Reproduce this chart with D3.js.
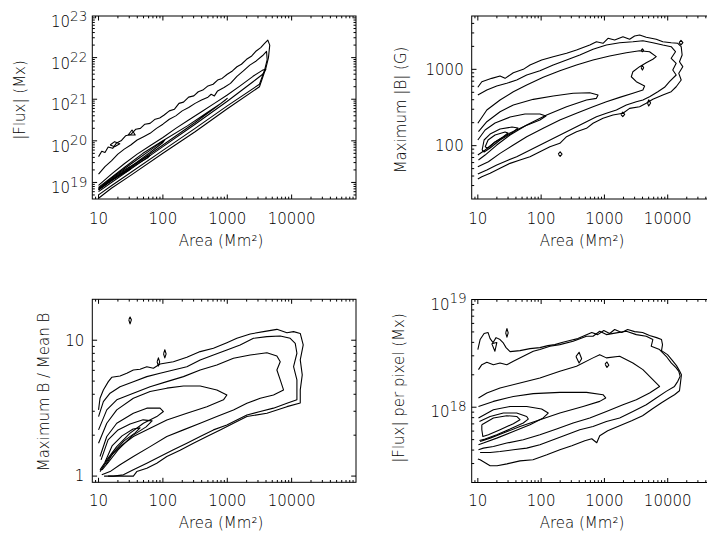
<!DOCTYPE html>
<html><head><meta charset="utf-8">
<script src="https://cdn.jsdelivr.net/npm/d3@7"></script>
<style>
html,body{margin:0;padding:0;background:#fff;}
svg text{font-family:"DejaVu Sans",sans-serif;font-weight:200;fill:#000;}
</style></head>
<body><svg id="c" width="707" height="536"></svg>
<script>
// ---------------- DATA (contour lines, [log10 area, log10 value]) ----------------
const xDomain = [8, 1e5];
const xTicks = [10, 100, 1000, 10000];
const xTickLabels = ["10", "100", "1000", "10000"];
const xTitle = "Area (Mm²)";

const fluxDomain = [4e18, 1e23];
const fluxTicks = [1e19, 1e20, 1e21, 1e22, 1e23];
const fluxTickExp = ["19", "20", "21", "22", "23"];
const fluxTitle = "|Flux| (Mx)";
const fluxContours = [
 [[1.0,19.62],[1.05,19.75],[1.1,19.72],[1.15,19.85],[1.22,19.82],[1.28,19.95],[1.35,20.0],[1.42,20.12],[1.5,20.15],[1.58,20.28],[1.65,20.3],[1.72,20.4],[1.8,20.42],[1.88,20.52],[1.95,20.55],[2.02,20.62],[2.1,20.72],[2.18,20.76],[2.25,20.9],[2.32,20.93],[2.4,21.05],[2.48,21.08],[2.55,21.18],[2.62,21.22],[2.7,21.32],[2.78,21.36],[2.85,21.46],[2.92,21.5],[3.0,21.6],[3.08,21.68],[3.15,21.78],[3.22,21.84],[3.3,21.96],[3.38,22.04],[3.45,22.16],[3.52,22.24],[3.58,22.34],[3.63,22.42],[3.66,22.3],[3.64,22.0],[3.6,21.75],[3.5,21.3],[3.0,20.77],[2.5,20.22],[2.0,19.7],[1.5,19.17],[1.2,18.86],[1.0,18.62]],
 [[1.0,19.2],[1.1,19.38],[1.2,19.52],[1.3,19.68],[1.4,19.8],[1.5,19.9],[1.6,20.02],[1.7,20.1],[1.8,20.18],[1.9,20.3],[2.0,20.4],[2.1,20.52],[2.2,20.6],[2.3,20.72],[2.4,20.8],[2.5,20.9],[2.6,20.98],[2.7,21.05],[2.75,21.12],[2.8,21.08],[2.85,21.2],[2.95,21.28],[3.05,21.38],[3.15,21.55],[3.25,21.68],[3.35,21.82],[3.45,21.92],[3.55,22.05],[3.61,22.15],[3.62,21.95],[3.58,21.7],[3.5,21.36],[3.0,20.84],[2.5,20.3],[2.0,19.77],[1.5,19.24],[1.2,18.92],[1.0,18.7]],
 [[1.0,18.93],[1.2,19.2],[1.4,19.45],[1.6,19.68],[1.8,19.88],[2.0,20.08],[2.2,20.3],[2.4,20.5],[2.6,20.7],[2.8,20.9],[3.0,21.1],[3.2,21.32],[3.4,21.55],[3.55,21.7],[3.6,21.72],[3.55,21.6],[3.4,21.42],[3.0,20.95],[2.5,20.4],[2.0,19.86],[1.5,19.32],[1.2,19.0],[1.0,18.78]],
 [[1.0,18.88],[1.2,19.12],[1.4,19.36],[1.69,19.7],[2.0,20.0],[2.38,20.36],[2.69,20.68],[2.9,20.9],[3.0,21.02],[2.97,20.98],[2.8,20.78],[2.5,20.44],[2.0,19.9],[1.5,19.36],[1.2,19.04],[1.0,18.82]],
 [[1.0,18.86],[1.2,19.1],[1.4,19.33],[1.6,19.55],[1.8,19.77],[1.95,19.94],[2.03,20.02],[2.0,19.96],[1.8,19.72],[1.5,19.38],[1.2,19.06],[1.0,18.84]],
 [[1.0,18.84],[1.2,19.08],[1.4,19.3],[1.6,19.48],[1.75,19.62],[1.8,19.65],[1.77,19.6],[1.6,19.44],[1.4,19.24],[1.2,19.05],[1.0,18.82]],
 [[1.05,18.9],[1.2,19.05],[1.35,19.2],[1.48,19.32],[1.5,19.33],[1.46,19.28],[1.3,19.14],[1.15,19.0],[1.05,18.88]],
 [[1.46,20.14],[1.52,20.26],[1.57,20.14],[1.46,20.14]],
 [[1.18,19.9],[1.25,19.98],[1.33,19.93],[1.25,19.86],[1.18,19.9]]
];

const maxBDomain = [20, 5000];
const maxBTicks = [100, 1000];
const maxBTickLabels = ["100", "1000"];
const maxBTitle = "Maximum |B| (G)";
const maxBContours = [
 [[1.0,2.765],[1.063,2.838],[1.22,2.882],[1.351,2.913],[1.43,2.882],[1.561,2.956],[1.718,3.0],[1.824,3.057],[2.008,3.122],[2.19,3.166],[2.402,3.21],[2.559,3.253],[2.769,3.319],[2.874,3.362],[2.978,3.341],[3.057,3.407],[3.162,3.384],[3.293,3.428],[3.398,3.394],[3.477,3.437],[3.556,3.45],[3.661,3.42],[3.819,3.394],[3.923,3.362],[4.055,3.349],[4.159,3.341],[4.213,3.297],[4.228,3.188],[4.186,3.10],[4.238,3.035],[4.175,2.948],[4.213,2.86],[4.134,2.772],[4.055,2.707],[3.923,2.664],[3.765,2.607],[3.661,2.555],[3.556,2.509],[3.398,2.489],[3.293,2.424],[3.135,2.401],[2.978,2.358],[2.82,2.293],[2.717,2.227],[2.559,2.183],[2.402,2.117],[2.296,2.031],[2.139,1.986],[1.981,1.921],[1.824,1.855],[1.666,1.812],[1.509,1.768],[1.351,1.703],[1.194,1.637],[1.063,1.593],[1.0,1.563]],
 [[1.0,2.664],[1.142,2.729],[1.299,2.782],[1.457,2.817],[1.614,2.860],[1.772,2.926],[1.981,2.982],[2.191,3.057],[2.402,3.122],[2.611,3.188],[2.82,3.263],[3.031,3.319],[3.241,3.349],[3.45,3.362],[3.608,3.375],[3.765,3.349],[3.923,3.319],[4.055,3.297],[4.123,3.231],[4.055,3.145],[4.134,3.079],[4.08,2.991],[4.134,2.926],[4.028,2.838],[3.95,2.765],[3.844,2.707],[3.713,2.641],[3.608,2.598],[3.504,2.576],[3.346,2.533],[3.189,2.467],[3.031,2.424],[2.874,2.379],[2.717,2.314],[2.559,2.248],[2.402,2.183],[2.244,2.117],[2.087,2.052],[1.929,1.986],[1.772,1.921],[1.614,1.855],[1.457,1.803],[1.299,1.746],[1.142,1.681],[1.0,1.628]],
 [[1.0,2.293],[1.142,2.467],[1.351,2.598],[1.561,2.707],[1.772,2.795],[2.033,2.896],[2.296,2.982],[2.559,3.057],[2.82,3.122],[3.083,3.175],[3.346,3.218],[3.556,3.244],[3.713,3.231],[3.819,3.166],[3.765,3.132],[3.661,3.087],[3.556,3.035],[3.45,2.969],[3.425,2.903],[3.504,2.838],[3.635,2.782],[3.608,2.729],[3.45,2.686],[3.241,2.633],[3.031,2.576],[2.82,2.51],[2.559,2.424],[2.296,2.336],[2.033,2.227],[1.772,2.117],[1.561,2.008],[1.351,1.899],[1.167,1.789],[1.0,1.724]],
 [[1.01,2.183],[1.142,2.314],[1.351,2.445],[1.561,2.533],[1.876,2.607],[2.191,2.651],[2.506,2.686],[2.769,2.694],[2.899,2.664],[2.874,2.62],[2.717,2.598],[2.402,2.51],[2.087,2.401],[1.772,2.27],[1.509,2.139],[1.299,2.008],[1.115,1.877],[1.01,1.812]],
 [[1.0,2.074],[1.115,2.205],[1.272,2.297],[1.509,2.375],[1.745,2.415],[1.981,2.415],[2.076,2.389],[1.981,2.336],[1.745,2.257],[1.509,2.166],[1.272,2.048],[1.115,1.943],[1.0,1.878]],
 [[1.068,1.943],[1.099,2.074],[1.194,2.152],[1.351,2.218],[1.54,2.244],[1.635,2.231],[1.54,2.166],[1.351,2.074],[1.194,1.969],[1.099,1.917],[1.068,1.943]],
 [[1.115,1.982],[1.162,2.074],[1.272,2.139],[1.43,2.179],[1.477,2.166],[1.398,2.113],[1.272,2.048],[1.162,1.969],[1.115,1.982]],
 [[2.27,1.89],[2.3,1.92],[2.33,1.89],[2.3,1.86],[2.27,1.89]],
 [[3.26,2.41],[3.29,2.44],[3.32,2.41],[3.29,2.38],[3.26,2.41]],
 [[3.68,2.56],[3.7,2.6],[3.73,2.56],[3.7,2.52],[3.68,2.56]],
 [[4.18,3.35],[4.21,3.38],[4.24,3.35],[4.21,3.32],[4.18,3.35]],
 [[3.58,3.25],[3.6,3.27],[3.62,3.25],[3.6,3.23],[3.58,3.25]],
 [[3.58,3.02],[3.6,3.05],[3.62,3.02],[3.6,2.99],[3.58,3.02]]
];

const ratioDomain = [0.9, 20];
const ratioTicks = [1, 10];
const ratioTickLabels = ["1", "10"];
const ratioTitle = "Maximum B / Mean B";
const ratioContours = [
 [[1.0,0.487],[1.023,0.573],[1.075,0.634],[1.152,0.695],[1.205,0.727],[1.334,0.737],[1.439,0.757],[1.541,0.781],[1.645,0.786],[1.75,0.805],[1.852,0.794],[1.956,0.825],[2.163,0.842],[2.372,0.875],[2.579,0.916],[2.785,0.941],[2.994,0.982],[3.149,1.014],[3.356,1.046],[3.563,1.063],[3.771,1.08],[3.927,1.055],[4.03,1.063],[4.134,1.05],[4.18,0.965],[4.134,0.855],[4.165,0.745],[4.134,0.634],[4.134,0.538],[3.927,0.511],[3.616,0.463],[3.305,0.438],[3.096,0.389],[2.89,0.34],[2.683,0.291],[2.474,0.242],[2.267,0.19],[2.061,0.144],[1.905,0.095],[1.75,0.058],[1.594,0.033],[1.541,0.0],[1.334,0.0],[1.148,0.0]],
 [[1.0,0.438],[1.075,0.548],[1.179,0.610],[1.334,0.658],[1.541,0.695],[1.75,0.732],[1.956,0.757],[2.163,0.781],[2.372,0.805],[2.579,0.855],[2.785,0.891],[2.994,0.928],[3.2,0.965],[3.407,1.014],[3.616,1.026],[3.823,1.031],[3.978,1.014],[4.056,0.977],[4.082,0.904],[4.03,0.805],[4.082,0.708],[4.082,0.561],[3.927,0.536],[3.718,0.5],[3.512,0.475],[3.305,0.45],[3.149,0.413],[2.994,0.376],[2.785,0.34],[2.579,0.291],[2.372,0.242],[2.163,0.193],[1.956,0.144],[1.75,0.095],[1.541,0.046],[1.386,0.009],[1.23,0.0],[1.086,0.0]],
 [[1.0,0.340],[1.128,0.487],[1.283,0.561],[1.541,0.61],[1.801,0.658],[2.061,0.695],[2.319,0.732],[2.579,0.781],[2.838,0.818],[3.096,0.867],[3.356,0.891],[3.616,0.908],[3.771,0.884],[3.823,0.842],[3.771,0.781],[3.823,0.708],[3.874,0.634],[3.718,0.597],[3.512,0.573],[3.305,0.536],[3.096,0.487],[2.838,0.438],[2.579,0.389],[2.319,0.34],[2.061,0.291],[1.801,0.217],[1.541,0.144],[1.334,0.083],[1.179,0.033],[1.05,0.009]],
 [[1.0,0.242],[1.128,0.389],[1.283,0.487],[1.541,0.573],[1.801,0.622],[2.061,0.647],[2.319,0.663],[2.579,0.663],[2.838,0.634],[2.994,0.597],[2.941,0.561],[2.683,0.511],[2.372,0.463],[2.061,0.413],[1.801,0.352],[1.541,0.291],[1.334,0.217],[1.179,0.144],[1.075,0.07],[1.023,0.033]],
 [[1.023,0.144],[1.128,0.291],[1.283,0.389],[1.541,0.463],[1.75,0.5],[1.956,0.5],[2.008,0.475],[1.905,0.438],[1.697,0.389],[1.49,0.316],[1.283,0.217],[1.128,0.119],[1.023,0.046]],
 [[1.039,0.119],[1.148,0.266],[1.303,0.34],[1.49,0.384],[1.692,0.414],[1.832,0.406],[1.739,0.362],[1.521,0.296],[1.303,0.193],[1.148,0.098],[1.054,0.046]],
 [[1.101,0.104],[1.21,0.222],[1.365,0.296],[1.537,0.347],[1.645,0.355],[1.568,0.318],[1.397,0.259],[1.226,0.171],[1.117,0.083]],
 [[1.47,1.15],[1.49,1.17],[1.51,1.15],[1.49,1.12],[1.47,1.15]],
 [[1.91,0.84],[1.93,0.87],[1.95,0.84],[1.93,0.81],[1.91,0.84]],
 [[2.01,0.9],[2.03,0.93],[2.05,0.9],[2.03,0.87],[2.01,0.9]]
];

const fppDomain = [2e17, 1e19];
const fppTicks = [1e18, 1e19];
const fppTickExp = ["18", "19"];
const fppTitle = "|Flux| per pixel (Mx)";
const fppContours = [
 [[1.0,18.535],[1.036,18.628],[1.099,18.684],[1.162,18.693],[1.194,18.637],[1.241,18.6],[1.288,18.646],[1.351,18.628],[1.398,18.6],[1.446,18.553],[1.509,18.516],[1.666,18.525],[1.824,18.544],[1.981,18.553],[2.107,18.572],[2.217,18.581],[2.328,18.6],[2.454,18.619],[2.58,18.637],[2.69,18.665],[2.8,18.693],[2.895,18.674],[2.99,18.712],[3.083,18.684],[3.162,18.721],[3.272,18.693],[3.367,18.721],[3.477,18.702],[3.603,18.693],[3.713,18.665],[3.824,18.646],[3.902,18.628],[3.918,18.581],[3.902,18.525],[3.997,18.488],[4.076,18.433],[4.139,18.386],[4.186,18.339],[4.217,18.302],[4.202,18.228],[4.186,18.153],[4.107,18.116],[4.028,18.088],[3.902,18.042],[3.76,17.986],[3.603,17.921],[3.43,17.874],[3.241,17.828],[3.052,17.781],[2.926,17.735],[2.879,17.67],[2.8,17.707],[2.69,17.688],[2.485,17.642],[2.296,17.605],[2.091,17.558],[1.871,17.512],[1.666,17.502],[1.461,17.474],[1.304,17.456],[1.194,17.456],[1.115,17.484],[1.036,17.512],[1.0,17.52]],
 [[1.01,18.349],[1.063,18.395],[1.142,18.417],[1.246,18.395],[1.351,18.411],[1.457,18.395],[1.561,18.426],[1.718,18.473],[1.876,18.519],[1.981,18.535],[2.139,18.566],[2.296,18.581],[2.506,18.612],[2.717,18.659],[2.82,18.659],[2.926,18.705],[3.031,18.674],[3.189,18.69],[3.346,18.705],[3.504,18.674],[3.661,18.659],[3.765,18.628],[3.74,18.566],[3.871,18.535],[3.976,18.473],[4.055,18.411],[4.134,18.365],[4.175,18.333],[4.197,18.287],[4.159,18.24],[4.107,18.193],[3.976,18.147],[3.819,18.086],[3.661,18.023],[3.45,17.961],[3.241,17.9],[3.031,17.868],[2.82,17.821],[2.611,17.791],[2.402,17.744],[2.191,17.698],[1.981,17.651],[1.772,17.62],[1.561,17.605],[1.351,17.589],[1.194,17.58],[1.036,17.58]],
 [[1.01,18.086],[1.142,18.132],[1.351,18.179],[1.666,18.225],[1.981,18.272],[2.296,18.333],[2.559,18.38],[2.82,18.458],[2.926,18.488],[3.031,18.458],[3.241,18.473],[3.45,18.411],[3.608,18.349],[3.765,18.256],[3.871,18.193],[3.713,18.132],[3.504,18.07],[3.293,18.023],[3.031,17.961],[2.769,17.9],[2.506,17.853],[2.244,17.797],[1.981,17.744],[1.718,17.698],[1.457,17.667],[1.246,17.635],[1.088,17.62],[1.01,17.605]],
 [[1.01,18.007],[1.246,18.054],[1.561,18.1],[1.876,18.126],[2.296,18.138],[2.717,18.138],[2.978,18.116],[3.02,18.086],[2.926,18.054],[2.663,18.007],[2.296,17.946],[1.981,17.884],[1.666,17.821],[1.403,17.76],[1.194,17.713],[1.036,17.682]],
 [[1.01,17.9],[1.246,17.977],[1.509,18.007],[1.772,18.007],[2.008,17.983],[2.112,17.946],[2.033,17.9],[1.824,17.837],[1.561,17.775],[1.299,17.713],[1.088,17.667],[1.01,17.651]],
 [[1.025,17.868],[1.194,17.914],[1.403,17.946],[1.614,17.946],[1.772,17.914],[1.797,17.89],[1.718,17.853],[1.509,17.797],[1.299,17.744],[1.115,17.704],[1.025,17.691]],
 [[1.063,17.837],[1.246,17.9],[1.457,17.921],[1.614,17.914],[1.666,17.884],[1.561,17.847],[1.351,17.791],[1.167,17.744],[1.079,17.728],[1.063,17.791],[1.063,17.837]],
 [[1.22,18.59],[1.27,18.52],[1.3,18.6],[1.22,18.59]],
 [[1.44,18.69],[1.46,18.73],[1.48,18.69],[1.46,18.65],[1.44,18.69]],
 [[2.55,18.47],[2.6,18.51],[2.64,18.45],[2.6,18.41],[2.55,18.47]],
 [[3.01,18.4],[3.04,18.42],[3.07,18.39],[3.04,18.37],[3.01,18.4]]
];

// ---------------- LAYOUT ----------------
const panels = [
 {contours: fluxContours, domain: fluxDomain, ticks: fluxTicks, exp: fluxTickExp, title: fluxTitle,
  L: 92.3, T: 16, R: 356, B: 199, xTitleX: 221, xTickY: 224, xTitleY: 246, yTitleX: 20, yTitleY: 100},
 {contours: maxBContours, domain: maxBDomain, ticks: maxBTicks, labels: maxBTickLabels, title: maxBTitle,
  L: 471.7, T: 16, R: 731, B: 199, xTitleX: 582, xTickY: 224, xTitleY: 246, yTitleX: 401, yTitleY: 110},
 {contours: ratioContours, domain: ratioDomain, ticks: ratioTicks, labels: ratioTickLabels, title: ratioTitle,
  L: 92.3, T: 299.3, R: 356, B: 482.3, xTitleX: 221, xTickY: 506, xTitleY: 528, yTitleX: 44, yTitleY: 392},
 {contours: fppContours, domain: fppDomain, ticks: fppTicks, exp: fppTickExp, title: fppTitle,
  L: 471.7, T: 299.5, R: 731, B: 482.5, xTitleX: 582, xTickY: 506, xTitleY: 528, yTitleX: 399, yTitleY: 388}
];

const svg = d3.select("#c");
svg.append("rect").attr("width", 707).attr("height", 536).attr("fill", "#fff");

function minorTicks(domain) {
  const out = [];
  const lo = Math.floor(Math.log10(domain[0])), hi = Math.ceil(Math.log10(domain[1]));
  for (let e = lo; e <= hi; e++) for (let m = 1; m <= 9; m++) {
    const v = m * Math.pow(10, e);
    if (v >= domain[0] * 1.0001 && v <= domain[1] / 1.0001) out.push({v, major: m === 1});
  }
  return out;
}

panels.forEach((p, i) => {
  const x = d3.scaleLog().domain(xDomain).range([p.L, p.R]);
  const y = d3.scaleLog().domain(p.domain).range([p.B, p.T]);
  const g = svg.append("g");
  const cid = "clip" + i;
  svg.append("clipPath").attr("id", cid).append("rect")
    .attr("x", p.L).attr("y", p.T).attr("width", p.R - p.L).attr("height", p.B - p.T);

  const line = d3.line().x(d => x(Math.pow(10, d[0]))).y(d => y(Math.pow(10, d[1])));
  g.append("g").attr("clip-path", `url(#${cid})`)
    .selectAll("path").data(p.contours).join("path")
    .attr("d", line).attr("fill", "none").attr("stroke", "#000")
    .attr("stroke-width", 1.1).attr("stroke-linejoin", "round");

  g.append("rect").attr("x", p.L).attr("y", p.T).attr("width", p.R - p.L).attr("height", p.B - p.T)
    .attr("fill", "none").attr("stroke", "#000").attr("stroke-width", 1);

  const tk = g.append("g").attr("stroke", "#000").attr("stroke-width", 1);
  minorTicks(xDomain).forEach(t => {
    const len = t.major ? 4.5 : 2.3, xx = x(t.v);
    tk.append("line").attr("x1", xx).attr("x2", xx).attr("y1", p.B).attr("y2", p.B - len);
    tk.append("line").attr("x1", xx).attr("x2", xx).attr("y1", p.T).attr("y2", p.T + len);
  });
  minorTicks(p.domain).forEach(t => {
    const len = t.major ? 4.8 : 2.5, yy = y(t.v);
    tk.append("line").attr("y1", yy).attr("y2", yy).attr("x1", p.L).attr("x2", p.L + len);
    tk.append("line").attr("y1", yy).attr("y2", yy).attr("x1", p.R).attr("x2", p.R - len);
  });

  xTicks.forEach((v, k) => {
    g.append("text").attr("x", x(v)).attr("y", p.xTickY).attr("text-anchor", "middle")
      .attr("font-size", 15).text(xTickLabels[k]);
  });
  g.append("text").attr("x", p.xTitleX).attr("y", p.xTitleY).attr("text-anchor", "middle")
    .attr("font-size", 15).text(xTitle);

  p.ticks.forEach((v, k) => {
    const yy = y(v);
    if (p.exp) {
      const t = g.append("text").attr("x", p.L - 5).attr("y", yy + (i === 0 ? 11 : 10))
        .attr("text-anchor", "end").attr("font-size", 15);
      t.append("tspan").text("10");
      t.append("tspan").attr("dy", -6.5).attr("font-size", 13.5).text(p.exp[k]);
    } else {
      g.append("text").attr("x", p.L - 8).attr("y", yy).attr("dy", "0.36em")
        .attr("text-anchor", "end").attr("font-size", 15).text(p.labels[k]);
    }
  });
  g.append("text").attr("transform", `translate(${p.yTitleX + 5},${p.yTitleY}) rotate(-90)`)
    .attr("text-anchor", "middle").attr("font-size", 15).text(p.title);
});
</script></body></html>
